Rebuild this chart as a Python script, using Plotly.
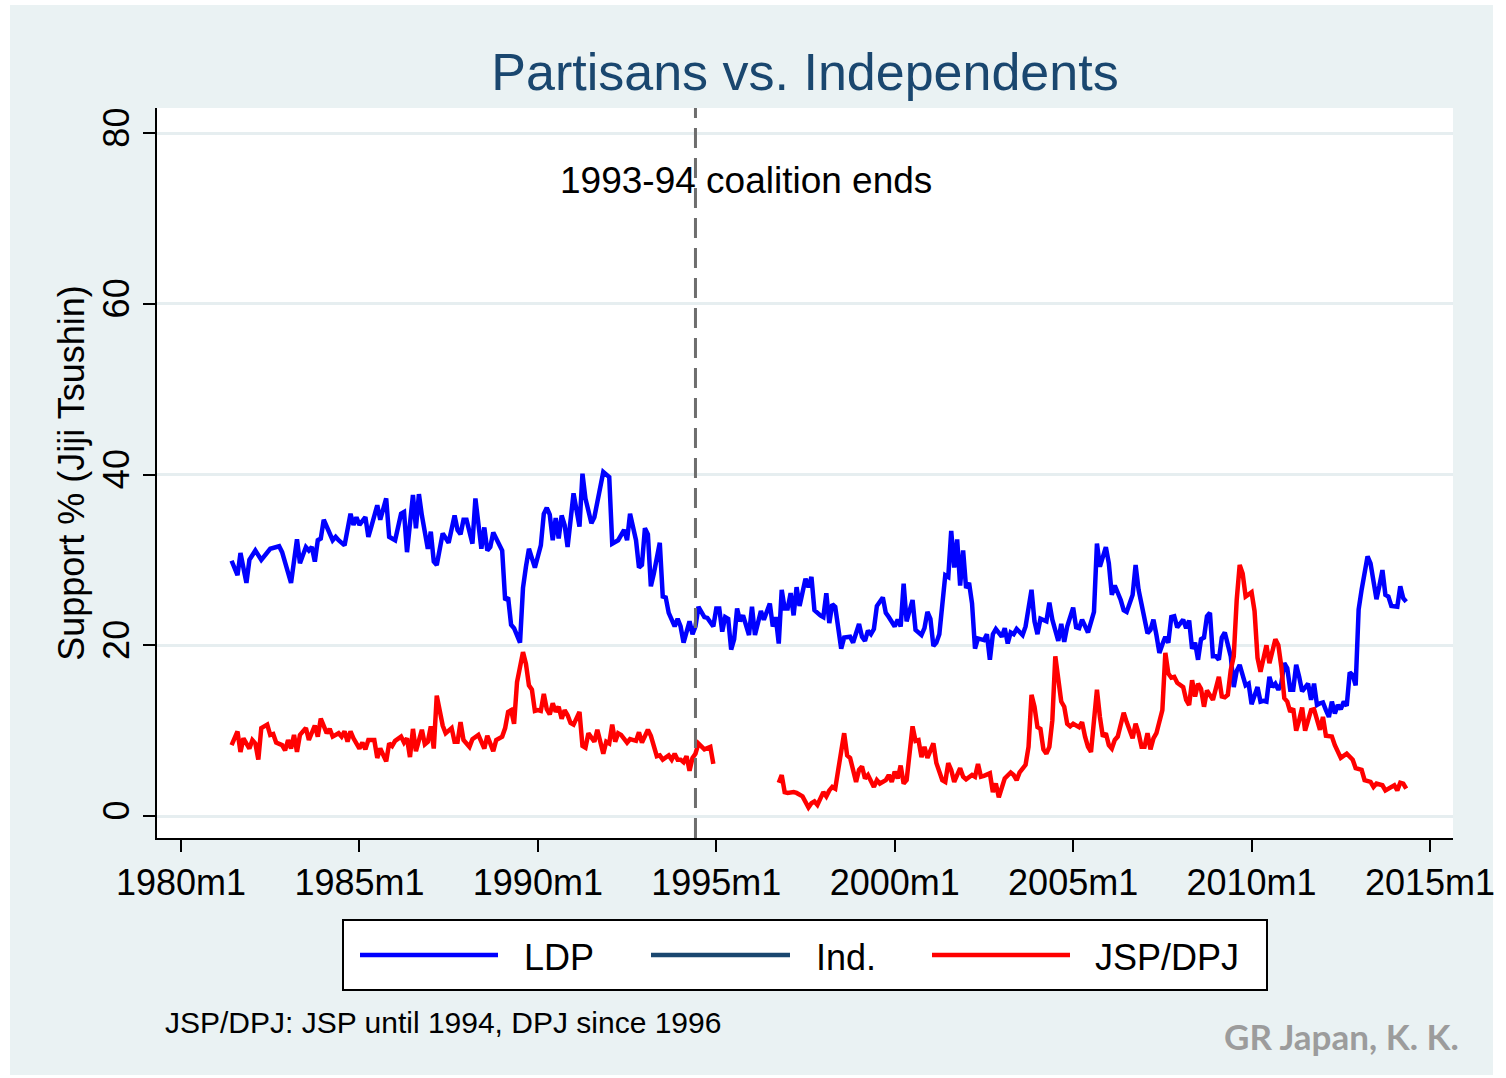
import plotly.graph_objects as go

# ---------------- data ----------------
ldp_months = [
    "1981m6", "1981m8", "1981m9", "1981m11", "1981m12", "1982m2", "1982m4", "1982m6", "1982m7", "1982m10",
    "1982m11", "1983m2", "1983m4", "1983m5", "1983m7", "1983m8", "1983m9", "1983m10", "1983m11", "1983m12",
    "1984m1", "1984m4", "1984m5", "1984m6", "1984m8", "1984m10", "1984m11", "1984m12", "1985m1", "1985m3",
    "1985m4", "1985m5", "1985m7", "1985m8", "1985m10", "1985m11", "1986m1", "1986m3", "1986m4", "1986m5",
    "1986m7", "1986m8", "1986m9", "1986m10", "1986m12", "1987m1", "1987m2", "1987m3", "1987m5", "1987m7",
    "1987m9", "1987m10", "1987m11", "1987m12", "1988m1", "1988m3", "1988m4", "1988m6", "1988m7", "1988m8",
    "1988m9", "1988m10", "1988m12", "1989m1", "1989m2", "1989m3", "1989m4", "1989m5", "1989m7", "1989m8",
    "1989m9", "1989m10", "1989m12", "1990m2", "1990m3", "1990m4", "1990m5", "1990m6", "1990m7", "1990m8",
    "1990m9", "1990m10", "1990m11", "1990m12", "1991m1", "1991m3", "1991m4", "1991m5", "1991m7", "1991m8",
    "1991m10", "1991m11", "1992m1", "1992m2", "1992m4", "1992m6", "1992m7", "1992m8", "1992m10", "1992m11",
    "1992m12", "1993m1", "1993m2", "1993m3", "1993m4", "1993m6", "1993m7", "1993m8", "1993m9", "1993m11",
    "1993m12", "1994m1", "1994m2", "1994m4", "1994m5", "1994m6", "1994m7", "1994m9", "1994m10", "1994m12",
    "1995m1", "1995m2", "1995m3", "1995m4", "1995m5", "1995m6", "1995m7", "1995m8", "1995m9", "1995m10",
    "1995m12", "1996m1", "1996m2", "1996m4", "1996m5", "1996m7", "1996m8", "1996m9", "1996m10", "1996m11",
    "1996m12", "1997m1", "1997m2", "1997m3", "1997m4", "1997m5", "1997m7", "1997m8", "1997m9", "1997m10",
    "1997m12", "1998m1", "1998m2", "1998m3", "1998m4", "1998m5", "1998m7", "1998m8", "1998m10", "1998m11",
    "1998m12", "1999m1", "1999m2", "1999m3", "1999m4", "1999m5", "1999m6", "1999m7", "1999m9", "1999m10",
    "1999m11", "2000m1", "2000m2", "2000m3", "2000m4", "2000m5", "2000m7", "2000m8", "2000m10", "2000m11",
    "2000m12", "2001m1", "2001m2", "2001m3", "2001m4", "2001m6", "2001m7", "2001m8", "2001m9", "2001m10",
    "2001m11", "2001m12", "2002m1", "2002m2", "2002m3", "2002m4", "2002m5", "2002m7", "2002m8", "2002m9",
    "2002m10", "2002m11", "2003m1", "2003m2", "2003m3", "2003m4", "2003m5", "2003m6", "2003m8", "2003m9",
    "2003m11", "2003m12", "2004m1", "2004m2", "2004m4", "2004m5", "2004m6", "2004m8", "2004m9", "2004m10",
    "2004m11", "2005m1", "2005m2", "2005m3", "2005m4", "2005m6", "2005m8", "2005m9", "2005m10", "2005m12",
    "2006m1", "2006m2", "2006m3", "2006m5", "2006m6", "2006m7", "2006m9", "2006m10", "2006m11", "2006m12",
    "2007m2", "2007m3", "2007m4", "2007m5", "2007m6", "2007m7", "2007m8", "2007m9", "2007m10", "2007m11",
    "2007m12", "2008m2", "2008m3", "2008m4", "2008m5", "2008m6", "2008m7", "2008m8", "2008m9", "2008m10",
    "2008m11", "2008m12", "2009m1", "2009m2", "2009m3", "2009m4", "2009m5", "2009m6", "2009m7", "2009m8",
    "2009m9", "2009m11", "2009m12", "2010m1", "2010m3", "2010m4", "2010m5", "2010m6", "2010m7", "2010m8",
    "2010m9", "2010m10", "2010m11", "2010m12", "2011m1", "2011m2", "2011m3", "2011m4", "2011m5", "2011m6",
    "2011m8", "2011m9", "2011m10", "2011m11", "2011m12", "2012m1", "2012m2", "2012m3", "2012m4", "2012m5",
    "2012m6", "2012m7", "2012m8", "2012m9", "2012m10", "2012m11", "2012m12", "2013m1", "2013m2", "2013m3",
    "2013m4", "2013m5", "2013m6", "2013m7", "2013m8", "2013m9", "2013m10", "2013m11", "2013m12", "2014m2",
    "2014m3", "2014m4", "2014m5",
]
ldp_values = [
    29.9, 28.2, 30.8, 27.3, 30.0, 31.1, 30.0, 30.8, 31.3, 31.6,
    30.9, 27.3, 32.4, 29.6, 31.5, 31.1, 31.5, 29.8, 32.3, 32.5,
    34.7, 32.3, 32.7, 32.3, 31.7, 35.4, 34.1, 35.0, 34.1, 35.0,
    32.7, 33.9, 36.4, 34.7, 37.2, 32.7, 32.3, 35.4, 35.6, 30.9,
    37.6, 33.7, 37.7, 35.2, 31.3, 33.3, 29.8, 29.4, 33.1, 32.0,
    35.2, 33.5, 33.0, 34.7, 34.7, 31.9, 37.2, 31.3, 33.8, 31.1,
    31.5, 33.2, 31.9, 31.1, 25.3, 25.6, 22.4, 22.0, 20.3, 26.7,
    29.2, 31.3, 29.1, 31.7, 35.4, 36.1, 35.3, 32.3, 34.9, 32.5,
    35.2, 34.1, 31.5, 34.4, 37.8, 33.9, 40.1, 37.2, 34.3, 35.0,
    38.8, 40.3, 39.7, 31.9, 32.3, 33.5, 32.3, 35.4, 32.3, 29.1,
    29.4, 33.7, 33.0, 26.9, 28.4, 32.0, 25.7, 25.6, 23.8, 22.2,
    23.1, 22.2, 20.3, 22.8, 21.3, 22.2, 24.5, 23.3, 23.2, 22.2,
    24.3, 24.3, 21.6, 23.3, 23.1, 19.5, 20.7, 24.3, 22.8, 23.5,
    21.2, 24.5, 21.2, 24.0, 23.0, 24.9, 22.2, 23.3, 20.2, 26.5,
    24.3, 24.3, 26.1, 23.5, 26.8, 24.6, 27.8, 26.8, 28.0, 24.1,
    23.5, 23.3, 26.1, 22.6, 24.8, 24.5, 19.6, 20.9, 21.0, 20.3,
    21.4, 22.5, 21.0, 20.5, 21.7, 21.3, 21.9, 24.6, 25.6, 23.8,
    23.3, 22.2, 23.0, 22.2, 27.2, 22.8, 25.3, 21.8, 21.2, 22.0,
    23.9, 23.1, 19.9, 20.3, 21.3, 28.2, 28.0, 33.4, 29.1, 32.4,
    27.0, 31.1, 26.7, 27.3, 24.9, 19.6, 20.8, 20.6, 21.3, 18.3,
    21.3, 21.9, 21.0, 22.0, 20.2, 21.5, 21.3, 21.9, 21.2, 22.2,
    26.5, 22.8, 21.3, 23.1, 22.8, 25.0, 23.0, 20.5, 22.5, 20.4,
    22.2, 24.4, 22.1, 22.0, 23.0, 21.5, 23.9, 31.9, 29.2, 31.5,
    29.6, 25.9, 27.0, 25.3, 24.1, 23.9, 25.9, 29.4, 26.5, 24.7,
    21.4, 21.8, 23.0, 21.2, 19.1, 20.1, 21.0, 20.3, 23.3, 23.4,
    22.1, 23.0, 22.0, 22.9, 19.6, 20.3, 18.3, 20.7, 20.9, 23.4,
    23.8, 18.7, 18.7, 18.3, 20.9, 21.5, 20.1, 18.7, 15.1, 17.0,
    17.7, 15.3, 15.5, 13.1, 15.1, 13.4, 13.5, 13.4, 16.3, 15.1,
    15.5, 14.8, 15.5, 17.9, 17.3, 14.8, 14.8, 17.7, 16.3, 14.6,
    15.5, 13.6, 15.5, 13.0, 13.2, 13.3, 12.4, 11.6, 13.4, 12.0,
    13.0, 12.5, 13.4, 12.9, 16.8, 16.5, 15.3, 24.2, 26.5, 28.4,
    30.4, 29.6, 27.3, 25.4, 27.0, 28.8, 25.9, 25.7, 24.6, 24.5,
    26.9, 25.5, 25.1,
]

# JSP (until 1994)
jsp_months = [
    "1981m6", "1981m8", "1981m9", "1981m10", "1981m12", "1982m1", "1982m2", "1982m3", "1982m4", "1982m6",
    "1982m7", "1982m8", "1982m9", "1982m11", "1982m12", "1983m1", "1983m2", "1983m3", "1983m4", "1983m5",
    "1983m7", "1983m8", "1983m10", "1983m11", "1983m12", "1984m2", "1984m3", "1984m4", "1984m6", "1984m7",
    "1984m8", "1984m9", "1984m10", "1984m11", "1985m1", "1985m2", "1985m3", "1985m4", "1985m6", "1985m7",
    "1985m8", "1985m10", "1985m11", "1985m12", "1986m1", "1986m3", "1986m4", "1986m5", "1986m6", "1986m7",
    "1986m8", "1986m10", "1986m11", "1986m12", "1987m1", "1987m2", "1987m3", "1987m5", "1987m6", "1987m8",
    "1987m9", "1987m10", "1987m11", "1987m12", "1988m2", "1988m3", "1988m5", "1988m7", "1988m8", "1988m10",
    "1988m11", "1989m1", "1989m2", "1989m3", "1989m4", "1989m5", "1989m6", "1989m8", "1989m9", "1989m10",
    "1989m11", "1989m12", "1990m1", "1990m2", "1990m3", "1990m4", "1990m5", "1990m6", "1990m7", "1990m8",
    "1990m9", "1990m10", "1990m11", "1990m12", "1991m1", "1991m3", "1991m4", "1991m5", "1991m6", "1991m8",
    "1991m9", "1991m10", "1991m11", "1991m12", "1992m1", "1992m2", "1992m3", "1992m4", "1992m5", "1992m7",
    "1992m8", "1992m10", "1992m11", "1992m12", "1993m2", "1993m3", "1993m5", "1993m6", "1993m7", "1993m9",
    "1993m10", "1993m11", "1993m12", "1994m1", "1994m2", "1994m3", "1994m4", "1994m5", "1994m6", "1994m7",
    "1994m9", "1994m11", "1994m12",
]
jsp_values = [
    8.3, 9.9, 7.5, 9.1, 7.9, 8.9, 8.5, 6.6, 10.3, 10.7,
    9.5, 9.6, 8.6, 8.3, 7.7, 8.9, 7.9, 9.5, 7.5, 9.5,
    10.3, 8.9, 10.6, 9.3, 11.4, 9.7, 10.2, 9.3, 9.7, 9.3,
    9.9, 8.7, 9.9, 9.1, 7.9, 8.6, 7.8, 8.9, 8.9, 6.8,
    7.9, 6.4, 8.5, 8.2, 8.8, 9.3, 8.6, 9.1, 6.9, 10.2,
    7.6, 10.1, 8.4, 8.7, 10.5, 7.9, 14.1, 10.6, 9.7, 10.3,
    8.7, 8.7, 11.0, 8.9, 8.1, 9.0, 9.5, 7.9, 9.4, 7.6,
    8.9, 9.3, 10.3, 12.2, 12.4, 10.8, 15.7, 19.2, 17.8, 15.3,
    14.8, 12.3, 12.4, 12.3, 14.3, 12.5, 11.9, 13.2, 12.2, 12.8,
    11.4, 12.4, 11.8, 10.9, 10.7, 12.2, 8.2, 8.0, 9.7, 8.7,
    10.1, 8.4, 7.3, 8.7, 8.5, 10.7, 8.7, 9.7, 9.5, 8.6,
    9.0, 8.8, 9.8, 8.6, 10.1, 9.4, 7.0, 7.1, 6.6, 7.1,
    6.6, 7.3, 6.6, 6.6, 6.3, 7.0, 5.3, 6.8, 7.3, 8.5,
    7.8, 8.1, 6.1,
]

# DPJ (since 1996)
dpj_months = [
    "1996m10", "1996m11", "1996m12", "1997m1", "1997m3", "1997m4", "1997m6", "1997m7", "1997m8", "1997m9",
    "1997m10", "1997m11", "1998m1", "1998m2", "1998m3", "1998m4", "1998m5", "1998m6", "1998m8", "1998m9",
    "1998m10", "1998m12", "1999m1", "1999m2", "1999m3", "1999m4", "1999m6", "1999m7", "1999m8", "1999m10",
    "1999m11", "1999m12", "2000m1", "2000m2", "2000m3", "2000m4", "2000m5", "2000m7", "2000m8", "2000m9",
    "2000m10", "2000m11", "2000m12", "2001m2", "2001m3", "2001m5", "2001m6", "2001m7", "2001m8", "2001m9",
    "2001m11", "2001m12", "2002m1", "2002m3", "2002m4", "2002m5", "2002m6", "2002m7", "2002m9", "2002m10",
    "2002m11", "2002m12", "2003m1", "2003m2", "2003m4", "2003m5", "2003m6", "2003m7", "2003m9", "2003m10",
    "2003m11", "2003m12", "2004m1", "2004m2", "2004m3", "2004m4", "2004m5", "2004m6", "2004m7", "2004m8",
    "2004m9", "2004m10", "2004m11", "2004m12", "2005m1", "2005m3", "2005m4", "2005m5", "2005m6", "2005m7",
    "2005m8", "2005m9", "2005m10", "2005m11", "2005m12", "2006m1", "2006m2", "2006m3", "2006m4", "2006m6",
    "2006m7", "2006m8", "2006m9", "2006m10", "2006m11", "2006m12", "2007m1", "2007m2", "2007m3", "2007m4",
    "2007m5", "2007m7", "2007m8", "2007m9", "2007m10", "2007m11", "2007m12", "2008m2", "2008m3", "2008m4",
    "2008m5", "2008m6", "2008m7", "2008m8", "2008m9", "2008m10", "2008m11", "2008m12", "2009m2", "2009m3",
    "2009m4", "2009m5", "2009m6", "2009m7", "2009m8", "2009m9", "2009m10", "2009m11", "2010m1", "2010m2",
    "2010m3", "2010m4", "2010m6", "2010m7", "2010m9", "2010m10", "2010m11", "2010m12", "2011m1", "2011m2",
    "2011m3", "2011m4", "2011m5", "2011m6", "2011m7", "2011m8", "2011m9", "2011m10", "2011m12", "2012m1",
    "2012m2", "2012m4", "2012m5", "2012m7", "2012m8", "2012m9", "2012m11", "2012m12", "2013m2", "2013m3",
    "2013m5", "2013m6", "2013m7", "2013m9", "2013m10", "2013m11", "2014m1", "2014m2", "2014m3", "2014m4",
    "2014m5",
]
dpj_values = [
    3.9, 4.8, 2.8, 2.7, 2.8, 2.7, 2.3, 1.7, 1.0, 1.5,
    1.7, 1.3, 2.8, 2.3, 3.0, 3.4, 3.2, 5.4, 9.7, 7.1,
    6.8, 4.0, 5.4, 5.8, 4.4, 4.8, 3.4, 4.2, 3.8, 4.2,
    4.8, 4.0, 5.2, 4.4, 5.9, 3.8, 4.2, 10.5, 8.8, 8.9,
    6.9, 8.1, 6.8, 8.5, 6.2, 4.2, 4.0, 6.2, 5.4, 4.0,
    5.6, 4.6, 4.3, 4.8, 4.6, 6.1, 4.6, 4.7, 5.0, 2.8,
    3.8, 2.2, 3.5, 4.4, 5.1, 4.8, 4.2, 5.1, 6.0, 8.1,
    14.2, 12.8, 10.4, 10.2, 7.8, 7.3, 8.1, 11.2, 18.7, 15.5,
    13.4, 12.8, 10.8, 10.5, 10.8, 10.4, 11.0, 9.3, 8.1, 7.5,
    11.2, 14.8, 11.6, 9.3, 9.7, 8.3, 7.9, 8.9, 9.3, 12.1,
    11.0, 10.1, 9.1, 10.8, 9.7, 8.1, 8.1, 9.7, 7.8, 9.1,
    9.7, 12.4, 19.1, 16.7, 16.2, 16.3, 15.6, 15.1, 13.6, 13.0,
    15.9, 14.0, 15.5, 14.9, 12.8, 14.7, 14.2, 13.6, 16.3, 14.0,
    13.9, 14.2, 17.1, 18.7, 25.3, 29.4, 28.4, 25.7, 26.2, 24.0,
    18.5, 16.9, 20.0, 17.9, 20.7, 20.0, 17.5, 13.8, 13.4, 12.2,
    12.6, 10.0, 11.2, 12.7, 10.0, 11.3, 12.4, 12.5, 10.1, 11.6,
    9.4, 9.3, 8.3, 6.8, 7.0, 7.3, 6.6, 5.6, 5.4, 4.2,
    4.0, 3.4, 3.8, 3.6, 3.0, 3.2, 3.6, 3.0, 3.9, 3.8,
    3.2,
]

series_names = ["LDP", "Ind.", "JSP/DPJ"]
series_colors = ["#0000FF", "#1A476F", "#FF0000"]

tick_years = [1980, 1985, 1990, 1995, 2000, 2005, 2010, 2015]
tick_labels = ["1980m1", "1985m1", "1990m1", "1995m1", "2000m1", "2005m1", "2010m1", "2015m1"]
y_ticks = [0, 20, 40, 60, 80]

coalition_end = "1994m6"
title_text = "Partisans vs. Independents"
y_title = "Support % (Jiji Tsushin)"
note_text = "JSP/DPJ: JSP until 1994, DPJ since 1996"
credit_text = "GR Japan, K. K."
event_text = "1993-94 coalition ends"


def tm(s):
    """Stata-style monthly date string -> decimal year."""
    y, m = s.split("m")
    return int(y) + (int(m) - 1) / 12.0


# ---------------- layout geometry (pixels) ----------------
W, H = 1506, 1078
PL, PR, PT, PB = 157, 1453, 108, 838  # plot area edges
FONT = "Liberation Sans, Arial, Helvetica, sans-serif"


def px_x(px):
    return (px - PL) / (PR - PL)


def px_y(py):
    return (PB - py) / (PB - PT)


fig = go.Figure()

fig.add_trace(go.Scatter(
    x=[tm(s) for s in ldp_months], y=ldp_values, mode="lines", name=series_names[0],
    line=dict(color=series_colors[0], width=4.5), showlegend=False))
fig.add_trace(go.Scatter(
    x=[None], y=[None], mode="lines", name=series_names[1],
    line=dict(color=series_colors[1], width=4.5), showlegend=False))
jsp_x = [tm(s) for s in jsp_months] + [None] + [tm(s) for s in dpj_months]
jsp_y = list(jsp_values) + [None] + list(dpj_values)
fig.add_trace(go.Scatter(
    x=jsp_x, y=jsp_y, mode="lines", name=series_names[2], connectgaps=False,
    line=dict(color=series_colors[2], width=4.5), showlegend=False))

shapes = []
# outer light panel and white plot region
shapes.append(dict(type="rect", xref="paper", yref="paper", layer="below",
                   x0=px_x(10), x1=px_x(1493), y0=px_y(1075), y1=px_y(5),
                   fillcolor="#EAF2F3", line=dict(width=0)))
shapes.append(dict(type="rect", xref="paper", yref="paper", layer="below",
                   x0=0, x1=1, y0=0, y1=1, fillcolor="white", line=dict(width=0)))
# coalition-end reference line
shapes.append(dict(type="line", xref="x", yref="paper", x0=tm(coalition_end), x1=tm(coalition_end),
                   y0=0, y1=1, line=dict(color="#6E6E6E", width=3, dash="20px,10px")))

# legend box (Stata style, long line samples)
shapes.append(dict(type="rect", xref="paper", yref="paper",
                   x0=px_x(343), x1=px_x(1267), y0=px_y(990), y1=px_y(920),
                   fillcolor="white", line=dict(color="black", width=2)))
legend_line_x = [(360, 498), (651, 790), (932, 1070)]
legend_text_x = [522, 814, 1093]
annotations = []
for (a, b), tx, name, col in zip(legend_line_x, legend_text_x, series_names, series_colors):
    shapes.append(dict(type="line", xref="paper", yref="paper", x0=px_x(a), x1=px_x(b),
                       y0=px_y(955), y1=px_y(955), line=dict(color=col, width=4.5)))
    annotations.append(dict(xref="paper", yref="paper", x=px_x(tx), y=px_y(957), text=name,
                            showarrow=False, xanchor="left", yanchor="middle",
                            font=dict(family=FONT, size=36, color="black")))

annotations.append(dict(xref="x", yref="y", x=tm(coalition_end) + 1.42, y=74.4, text=event_text,
                        showarrow=False, xanchor="center", yanchor="middle",
                        font=dict(family=FONT, size=37, color="black")))
annotations.append(dict(xref="paper", yref="paper", x=px_x(163), y=px_y(1023), text=note_text,
                        showarrow=False, xanchor="left", yanchor="middle",
                        font=dict(family=FONT, size=30, color="black")))
annotations.append(dict(xref="paper", yref="paper", x=px_x(1461), y=px_y(1036),
                        text="<b>" + credit_text + "</b>", showarrow=False,
                        xanchor="right", yanchor="middle",
                        font=dict(family="Lato, Century Gothic, sans-serif", size=35, color="#9C9C9C")))

x_lo = 1980 + (PL - 181) / 35.686
x_hi = 1980 + (PR - 181) / 35.686
y_lo = (816 - PB) / 8.5375
y_hi = (816 - PT) / 8.5375

fig.update_layout(
    width=W, height=H,
    margin=dict(l=PL, r=W - PR, t=PT, b=H - PB, pad=0),
    paper_bgcolor="white", plot_bgcolor="rgba(0,0,0,0)",
    title=dict(text=title_text, x=0.5, xref="paper", xanchor="center",
               y=1 - 72 / H, yref="container", yanchor="middle",
               font=dict(family=FONT, size=52, color="#1A476F")),
    xaxis=dict(range=[x_lo, x_hi], tickmode="array", tickvals=tick_years, ticktext=tick_labels,
               showgrid=False, zeroline=False, showline=True, linecolor="black", linewidth=2,
               ticks="outside", ticklen=12, tickwidth=2, tickcolor="black",
               tickfont=dict(family=FONT, size=36, color="black")),
    yaxis=dict(range=[y_lo, y_hi], tickmode="array", tickvals=y_ticks,
               showgrid=True, gridcolor="#E6EEF0", gridwidth=3, zeroline=False,
               showline=True, linecolor="black", linewidth=2,
               ticks="outside", ticklen=12, tickwidth=2, tickcolor="black", tickangle=-90,
               tickfont=dict(family=FONT, size=36, color="black"),
               title=dict(text=y_title, standoff=0, font=dict(family=FONT, size=36, color="black"))),
    shapes=shapes,
    annotations=annotations,
    showlegend=False,
)

# remove the browser's default body margin so the figure sits at the page origin
fig.write_html("out.html", config={"displayModeBar": False},
               post_script="document.body.style.margin='0px';")
